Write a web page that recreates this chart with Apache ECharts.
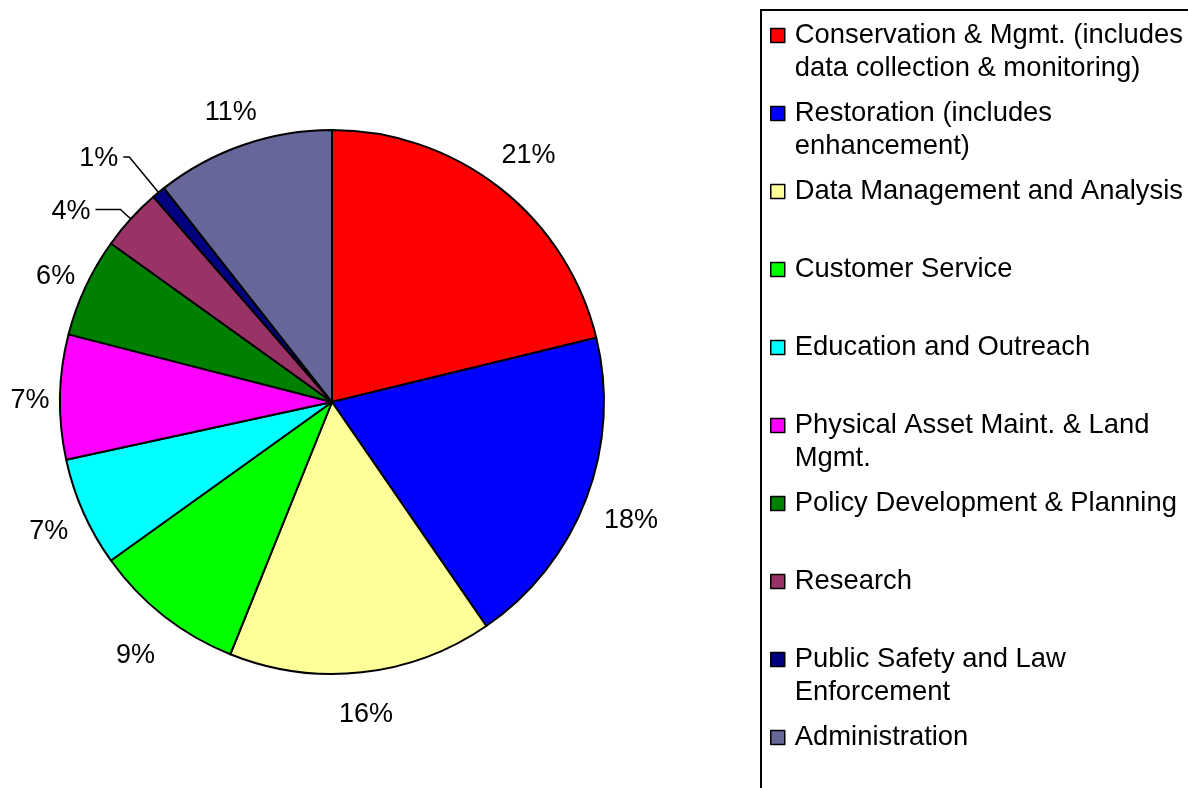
<!DOCTYPE html>
<html><head><meta charset="utf-8">
<script src="https://cdn.jsdelivr.net/npm/echarts@6/dist/echarts.min.js"></script>
<style>html,body{margin:0;padding:0;background:#fff}#c{width:1188px;height:788px}</style>
</head><body><div id="c"></div>
<script>
// ---- data ----
const categories = [
  'Conservation & Mgmt. (includes data collection & monitoring)',
  'Restoration (includes enhancement)',
  'Data Management and Analysis',
  'Customer Service',
  'Education and Outreach',
  'Physical Asset Maint. & Land Mgmt.',
  'Policy Development & Planning',
  'Research',
  'Public Safety and Law Enforcement',
  'Administration'
];
const legendLabels = [
  'Conservation & Mgmt. (includes\ndata collection & monitoring)',
  'Restoration (includes\nenhancement)',
  'Data Management and Analysis',
  'Customer Service',
  'Education and Outreach',
  'Physical Asset Maint. & Land\nMgmt.',
  'Policy Development & Planning',
  'Research',
  'Public Safety and Law\nEnforcement',
  'Administration'
];
const values = [21.2, 19.2, 15.7, 9.0, 6.5, 7.4, 5.9, 3.7, 0.8, 10.6];
const pctLabels = ['21%', '18%', '16%', '9%', '7%', '7%', '6%', '4%', '1%', '11%'];
const colors = ['#FF0000', '#0000FF', '#FFFF99', '#00FF00', '#00FFFF', '#FF00FF', '#008000', '#993366', '#000080', '#666699'];

// ---- style ----
const FONT = '"Liberation Sans", Arial, sans-serif';
// radial distance of each percentage label beyond the pie edge
const labelGap = [46, 48, 38, 46, 38, 30, 33, 0, 0, 38];
// leader lines for the two smallest slices
const leaderStyle = { 7: { length: 14, length2: 25 }, 8: { length: 46, length2: 6 } };

const chart = echarts.init(document.getElementById('c'), null, { renderer: 'canvas' });

const pieData = categories.map((name, i) => {
  const item = { name: name, value: values[i], itemStyle: { color: colors[i] } };
  if (leaderStyle[i]) {
    item.labelLine = { show: true, length: leaderStyle[i].length, length2: leaderStyle[i].length2 };
    item.label = { distanceToLabelLine: 5 };
  } else {
    item.labelLine = { show: false, length: labelGap[i], length2: 0 };
  }
  return item;
});

// legend text: a blank first line so that the first real line sits level with the swatch
const legendText = {};
categories.forEach((c, i) => {
  const t = legendLabels[i];
  legendText[c] = ' \n' + (t.indexOf('\n') >= 0 ? t : t + '\n ');
});

chart.setOption({
  animation: false,
  backgroundColor: '#ffffff',
  graphic: [{
    type: 'rect',
    shape: { x: 761, y: 10, width: 600, height: 900 },
    style: { fill: 'none', stroke: '#000', lineWidth: 2 },
    silent: true
  }],
  legend: {
    orient: 'vertical',
    left: 770,
    top: -14,
    padding: 0,
    itemGap: -21,
    itemWidth: 14,
    itemHeight: 14,
    icon: 'rect',
    selectedMode: false,
    itemStyle: { borderColor: '#000', borderWidth: 1.5 },
    data: categories,
    formatter: name => legendText[name],
    textStyle: {
      fontFamily: FONT,
      fontSize: 27.4,
      lineHeight: 33,
      color: '#000',
      padding: [0, 0, 0, 5]
    }
  },
  series: [{
    type: 'pie',
    center: [332, 402],
    radius: 272,
    startAngle: 90,
    clockwise: true,
    avoidLabelOverlap: false,
    silent: true,
    itemStyle: { borderColor: '#000', borderWidth: 2 },
    emphasis: { disabled: true },
    label: {
      show: true,
      position: 'outside',
      fontFamily: FONT,
      fontSize: 27,
      color: '#000',
      distanceToLabelLine: 0,
      formatter: p => pctLabels[p.dataIndex]
    },
    labelLine: {
      show: false,
      length: 38,
      length2: 0,
      lineStyle: { color: '#000', width: 1.5 }
    },
    labelLayout: function (params) {
      if (leaderStyle[params.dataIndex]) return { dy: 2 };
      return { align: 'center', dy: 4 };
    },
    data: pieData
  }]
});
</script>
</body></html>
